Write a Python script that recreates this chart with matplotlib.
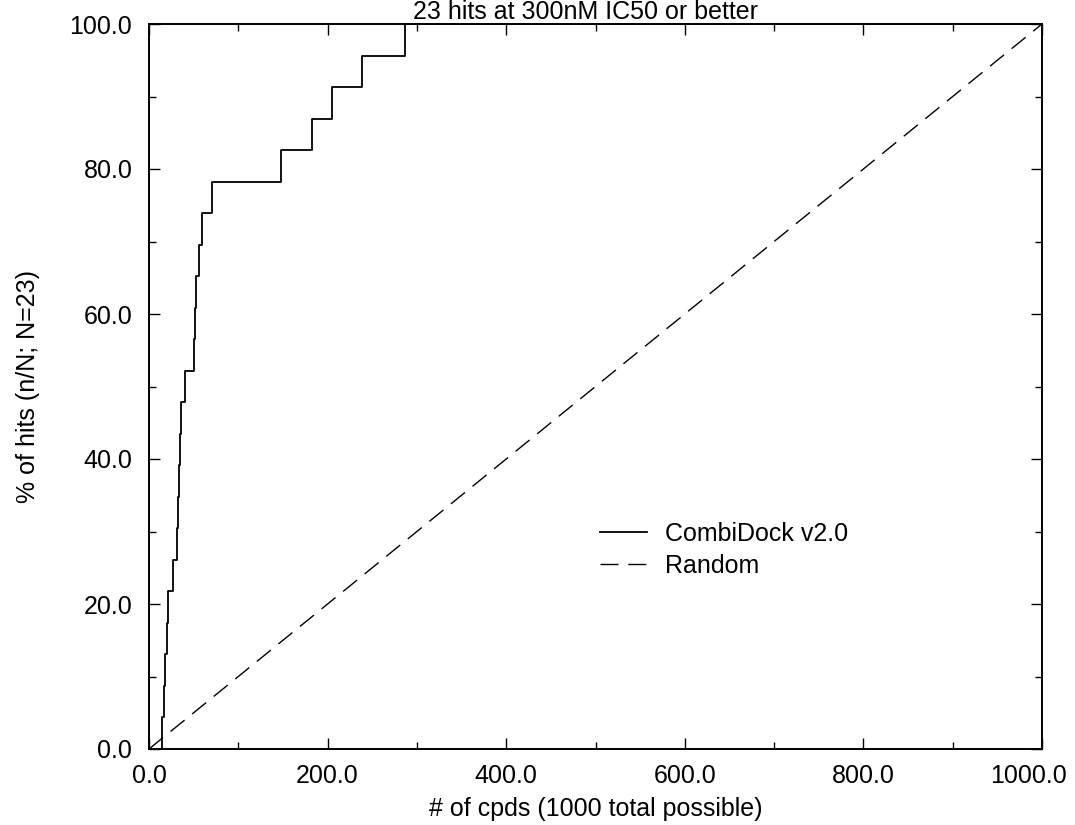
import numpy as np
import matplotlib
matplotlib.use("Agg")
import matplotlib.pyplot as plt
from matplotlib.ticker import MultipleLocator, FuncFormatter, FormatStrFormatter

# rank (# of cpds) at which each of the 23 hits turns up
hit_ranks = [15, 17, 18, 20, 21, 27, 31, 32, 34, 35, 36, 40,
             50, 51, 53, 56, 59, 71, 148, 182, 205, 239, 287]
n_total = 1000
n_hits = 23

title = "23 hits at 300nM IC50 or better"
xlabel = "# of cpds (1000 total possible)"
ylabel = "% of hits (n/N; N=23)"

plt.rcParams['font.family'] = ['Liberation Sans', 'DejaVu Sans']

# cumulative curve
xs = [0] + hit_ranks + [n_total]
ys = [0] + [100.0 * (i + 1) / n_hits for i in range(n_hits)] + [100.0]

fig = plt.figure(figsize=(10.75, 8.25), dpi=100)
ax = fig.add_axes([149 / 1075, 1 - 749 / 825, (1042 - 149) / 1075, (749 - 24) / 825])

ax.plot(xs, ys, drawstyle='steps-post', color='black', lw=1.3, label='CombiDock v2.0')
ax.plot([0, n_total], [0, 100], color='black', lw=1.0, dashes=(13, 7), label='Random')

ax.set_xlim(0, n_total)
ax.set_ylim(0, 100)
ax.xaxis.set_major_locator(MultipleLocator(200))
ax.xaxis.set_minor_locator(MultipleLocator(100))
ax.yaxis.set_major_locator(MultipleLocator(20))
ax.yaxis.set_minor_locator(MultipleLocator(10))
# last x label is drawn separately, pulled in a bit so it stays on the page
ax.xaxis.set_major_formatter(FuncFormatter(lambda v, p: '' if v >= n_total else '%.1f' % v))
ax.yaxis.set_major_formatter(FormatStrFormatter('%.1f'))
ax.tick_params(which='both', direction='in', top=True, right=True, labelsize=18, width=1.0)
ax.tick_params(which='major', length=8)
ax.tick_params(which='minor', length=5)
ax.tick_params(axis='x', pad=11)
ax.tick_params(axis='y', pad=12)
for s in ax.spines.values():
    s.set_linewidth(1.4)

ax.annotate('%.1f' % n_total, xy=(n_total, 0), xycoords='data', xytext=(-9.5, -11),
            textcoords='offset points', ha='center', va='top', fontsize=18, annotation_clip=False)

ax.set_xlabel(xlabel, fontsize=18, labelpad=6)
ax.set_ylabel(ylabel, fontsize=18, labelpad=21)
fig.text(0.545, 1 - 19 / 825, title, fontsize=18, ha='center', va='baseline')

ax.legend(loc='upper left', bbox_to_anchor=(0.505, 0.313), frameon=False, fontsize=18,
          handlelength=1.9, handletextpad=0.7, labelspacing=0.3, borderpad=0, borderaxespad=0)

fig.savefig("out.png", dpi=100)
